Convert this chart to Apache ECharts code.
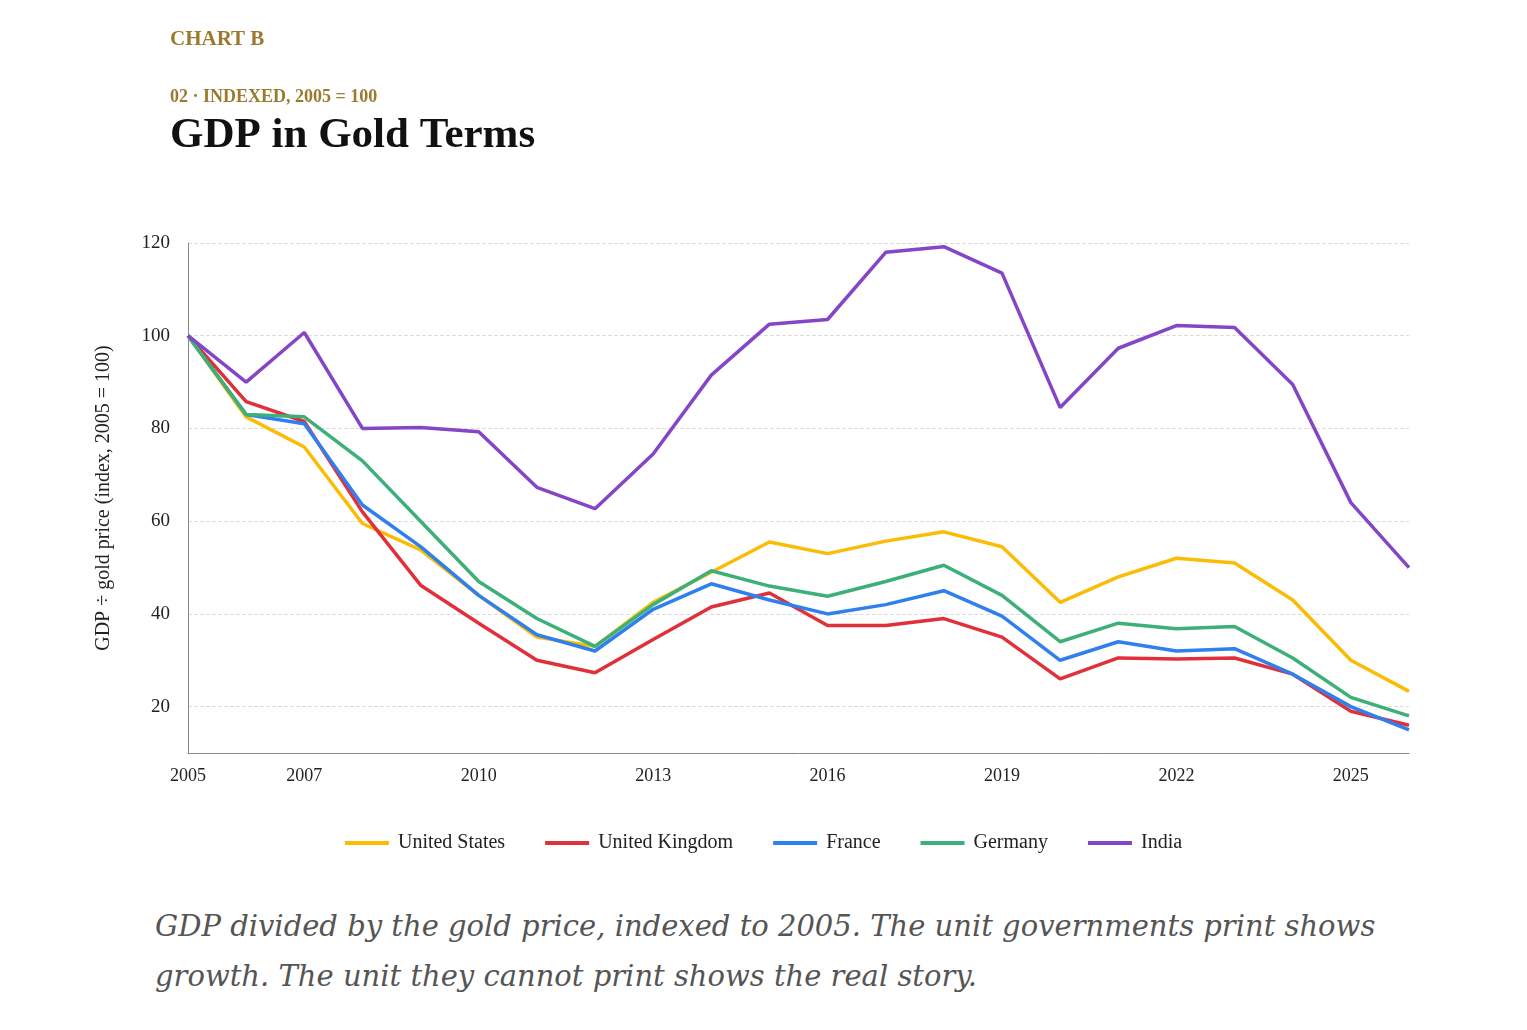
<!DOCTYPE html>
<html><head><meta charset="utf-8">
<script src="https://cdn.jsdelivr.net/npm/echarts@6/dist/echarts.min.js"></script>
<style>
body{margin:0;background:#fff;}
#c{position:absolute;left:0;top:0;width:1527px;height:880px;}
#cap{position:absolute;left:155px;top:901px;width:1300px;font-family:"DejaVu Serif",serif;font-style:italic;font-size:29px;line-height:50px;color:#555;}
</style></head><body>
<div id="c"></div>
<div id="cap">GDP divided by the gold price, indexed to 2005. The unit governments print shows growth. The unit they cannot print shows the real story.</div>
<script>
const years=['2005','2006','2007','2008','2009','2010','2011','2012','2013','2014','2015','2016','2017','2018','2019','2020','2021','2022','2023','2024','2025','2026'];
const shownLabels=['2005','2007','2010','2013','2016','2019','2022','2025'];
const us=[100,82.5,76,59.5,53.8,44,35,33,42.5,49,55.5,53,55.7,57.7,54.5,42.5,48,52,51,43,30,23.3];
const uk=[100,85.8,81.5,62,46.2,38,30,27.3,34.5,41.5,44.5,37.5,37.5,39,35,26,30.5,30.3,30.5,27,19,16];
const fr=[100,83,81,63.5,54.5,44,35.5,32,41,46.5,43,40,42,45,39.5,30,34,32,32.5,27,20,15];
const de=[100,83,82.5,73,60,47,39,33,42,49.3,46,43.8,47,50.5,44,34,38,36.8,37.3,30.5,22,18];
const india=[100,90,100.7,80,80.2,79.3,67.3,62.7,74.5,91.5,102.5,103.5,118,119.2,113.5,84.5,97.3,102.2,101.8,89.5,64,50];
const names=['United States','United Kingdom','France','Germany','India'];
const colors=['#fbbc05','#e0303a','#2f7fef','#3daf78','#8446c6'];
const serif='"Liberation Serif",serif';
const chart=echarts.init(document.getElementById('c'));
chart.setOption({
 animation:false,
 graphic:[
  {type:'text',left:170,top:29,style:{text:'CHART B',font:'bold 21px '+serif,fill:'#9a7b2e'}},
  {type:'text',left:170,top:88,style:{text:'02 · INDEXED, 2005 = 100',font:'bold 18px '+serif,fill:'#9a7b2e'}},
  {type:'text',left:170,top:114,style:{text:'GDP in Gold Terms',font:'bold 43px '+serif,fill:'#111'}}
 ],
 grid:{left:188,right:118,top:243,bottom:127},
 legend:{bottom:22,left:'center',itemWidth:44,itemGap:40,icon:'rect',itemHeight:4,
  textStyle:{fontFamily:serif,fontSize:20,color:'#222',padding:[0,0,0,4]},data:names},
 xAxis:{type:'category',data:years,boundaryGap:false,
  axisLine:{lineStyle:{color:'#888'}},axisTick:{show:false},
  axisLabel:{interval:0,formatter:v=>shownLabels.includes(v)?v:'',fontFamily:serif,fontSize:18,color:'#222',margin:14}},
 yAxis:{type:'value',min:10,max:120,interval:10,
  name:'GDP ÷ gold price (index, 2005 = 100)',nameLocation:'middle',nameGap:74,
  nameTextStyle:{fontFamily:serif,fontSize:20,color:'#222'},
  axisLine:{show:true,lineStyle:{color:'#888'}},axisTick:{show:false},
  axisLabel:{formatter:v=>v%20===0?v:'',fontFamily:serif,fontSize:19,color:'#222',margin:18},
  splitLine:{lineStyle:{type:'dashed',color:['transparent','#ddd']}}},
 series:[us,uk,fr,de,india].map((d,i)=>({name:names[i],type:'line',data:d,symbol:'none',
  lineStyle:{width:3.5,color:colors[i]},itemStyle:{color:colors[i]}}))
});
</script></body></html>
